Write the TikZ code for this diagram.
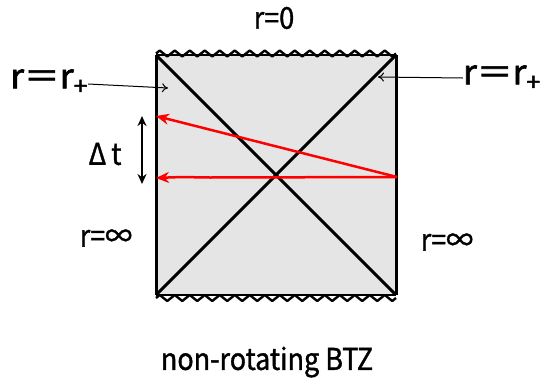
\documentclass[tikz,border=0pt]{standalone}
\usepackage{fontspec}
\setmainfont[FakeStretch=0.9,FakeBold=1.2]{Noto Sans CJK JP}
\newfontfamily\heavyfont[FakeStretch=1.05,FakeBold=2]{Noto Sans CJK JP}
\usetikzlibrary{arrows.meta,decorations.pathmorphing}
\tikzset{
  lbl/.style={inner sep=0pt, font=\fontsize{30}{32}\selectfont},
  plbl/.style={inner sep=0pt, font=\heavyfont\fontsize{34}{36}\selectfont},
  edge/.style={line width=3pt},
  wavy/.style={line width=2.4pt, line join=round, decorate, decoration={zigzag, segment length=15pt, amplitude=3pt}},
  redarr/.style={red, line width=2.5pt, -{Stealth[length=13pt,width=11pt]}},
  ptr/.style={line width=1pt, -{To[length=6pt,width=9pt]}},
}
\begin{document}
\begin{tikzpicture}[x=1pt,y=-1pt]
\useasboundingbox (0,0) rectangle (543,383);
% square corners
\coordinate (tl) at (156,55);
\coordinate (tr) at (396,55);
\coordinate (bl) at (156,295);
\coordinate (br) at (396,295);
\fill[gray!20] (tl) rectangle (br);
\draw[edge] (tl) -- (bl);
\draw[edge] (tr) -- (br);
\draw[edge] (tl) -- (br);
\draw[edge] (tr) -- (bl);
\draw[line width=2pt] (tl) -- (tr);
\draw[wavy] ([yshift=1.5pt]tl) -- ([yshift=1.5pt]tr);
\draw[line width=2pt] (bl) -- (br);
\draw[wavy] ([yshift=-3pt]bl) -- ([yshift=-3pt]br);
% labels
\node[lbl] (r0) at (274,18) {r=0};
\node[plbl, anchor=west] (rpl) at (10,82) {r＝r\textsubscript{+}};
\node[plbl, anchor=east] (rpr) at (541,78) {r＝r\textsubscript{+}};
\node[lbl] (dt) at (105,154) {Δ\,t};
\node[lbl] (ril) at (106,238) {r=∞};
\node[lbl] (rir) at (447,242) {r=∞};
\node[lbl] (title) at (267,362) {non-rotating BTZ};
% pointers
\coordinate (pl) at (168,88);
\coordinate (pr) at (378,77);
\draw[ptr] (rpl.east |- 0,84) -- (pl);
\draw[ptr] (rpr.west |- 0,78) -- (pr);
% delta t
\coordinate (dta) at (142,116);
\coordinate (dtb) at (142,184);
\draw[line width=2pt, {Stealth[length=10pt,width=9pt]}-{Stealth[length=10pt,width=9pt]}] (dta) -- (dtb);
% red arrows
\coordinate (src) at (397,177);
\coordinate (t1) at (156,116);
\coordinate (t2) at (156,178);
\draw[redarr] (src) -- (t1);
\draw[redarr] (src) -- (210,177.5) .. controls (180,177) .. (t2);
\end{tikzpicture}
\end{document}
